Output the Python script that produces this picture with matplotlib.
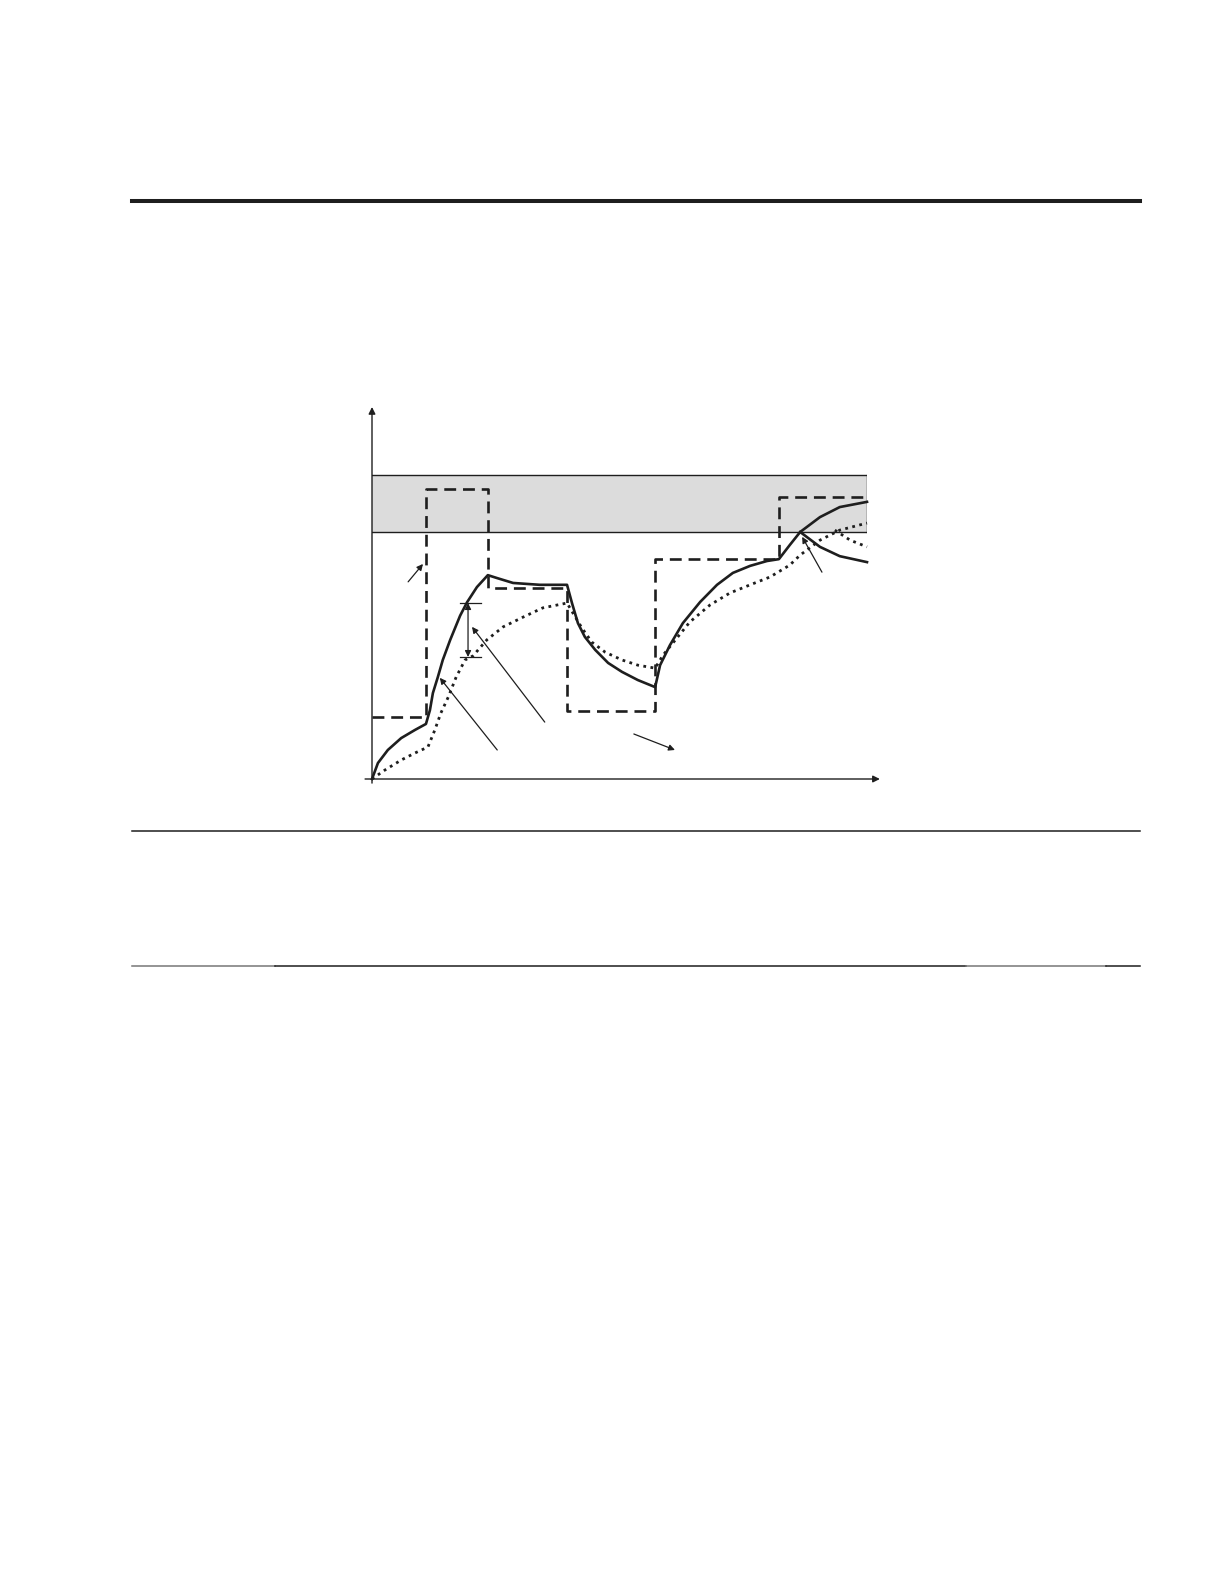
import matplotlib
matplotlib.use('Agg')
import matplotlib.pyplot as plt
from matplotlib.lines import Line2D

# 时间轴 0..10, 数值轴 0..100
step_t = [0, 1.09, 2.34, 3.94, 5.72, 8.22, 10]
step_v = [16.7, 78.0, 51.3, 18.3, 59.1, 75.8, 75.8]

solid_t = [0, 0.12, 0.32, 0.59, 0.87, 1.09, 1.17, 1.23, 1.33, 1.43, 1.58,
           1.78, 1.92, 2.12, 2.34, 2.53, 2.85, 3.39, 3.94,
           4.04, 4.16, 4.30, 4.51, 4.77, 5.05, 5.37, 5.72,
           5.82, 6.02, 6.28, 6.63, 6.97, 7.29, 7.64, 7.98, 8.22,
           8.44, 8.65, 9.05, 9.45, 10]
solid_v = [0, 4.3, 7.8, 11.0, 13.2, 14.8, 18.5, 23.1, 27.4, 32.0, 37.4,
           43.9, 47.5, 51.6, 54.8, 54.0, 52.7, 52.2, 52.2,
           47.3, 41.9, 38.2, 34.7, 31.2, 28.8, 26.6, 24.7,
           30.6, 36.0, 41.9, 47.6, 52.2, 55.4, 57.3, 58.6, 59.1,
           62.9, 66.4, 70.4, 73.1, 74.5]
solid_branch_t = [8.65, 9.05, 9.45, 10]
solid_branch_v = [66.4, 62.4, 59.9, 58.3]

dot_t = [0, 0.26, 0.59, 0.87, 1.13, 1.27, 1.39, 1.54, 1.70, 1.88, 2.04,
         2.32, 2.65, 3.05, 3.45, 3.94,
         4.06, 4.24, 4.44, 4.71, 5.05, 5.37, 5.72,
         5.88, 6.16, 6.42, 6.83, 7.23, 7.64, 8.04, 8.44,
         8.65, 9.05, 9.45, 10]
dot_v = [0, 2.4, 5.1, 7.0, 8.6, 13.2, 17.7, 22.0, 27.4, 32.0, 33.1,
         37.4, 40.9, 43.5, 46.0, 47.3,
         44.6, 40.6, 36.8, 34.1, 32.0, 30.6, 29.8,
         33.3, 37.9, 42.2, 46.8, 50.0, 52.2, 54.3, 57.5,
         60.2, 64.2, 66.9, 68.8]
dot_branch_t = [9.35, 9.66, 10]
dot_branch_v = [66.9, 64.2, 62.4]

band = (66.4, 81.7)
gap_t = 1.94
gap_v = (32.8, 47.3)

# 指示箭头: (尾部, 头部)
pointers = [
    ((0.73, 53.0), (1.03, 57.8)),
    ((2.53, 7.8), (1.37, 27.2)),
    ((3.49, 15.3), (2.02, 40.9)),
    ((5.29, 12.1), (6.12, 7.8)),
    ((9.09, 55.6), (8.69, 65.1)),
]

ink = '#1e1e1e'

fig = plt.figure(figsize=(12.24, 15.84), dpi=100)
ax = fig.add_axes([372 / 1224, 1 - 779 / 1584, 495 / 1224, 372 / 1584])
ax.set_xlim(0, 10)
ax.set_ylim(0, 100)
ax.axis('off')

# 灰色区域
ax.fill_between([0, 10], band[0], band[1], color='#dcdcdc', lw=0, zorder=1)
ax.plot([0, 10], [band[0], band[0]], color=ink, lw=1.0, zorder=2)
ax.plot([0, 10], [band[1], band[1]], color=ink, lw=1.0, zorder=2)
ax.plot([10, 10], [band[0], band[1]], color=ink, lw=1.0, zorder=2)

# 坐标轴箭头
ax.annotate('', xy=(10.26, 0), xytext=(-0.14, 0), annotation_clip=False,
            arrowprops=dict(arrowstyle='-|>', color=ink, lw=1.0, mutation_scale=10, shrinkA=0, shrinkB=0))
ax.annotate('', xy=(0, 100), xytext=(0, -1.1), annotation_clip=False,
            arrowprops=dict(arrowstyle='-|>', color=ink, lw=1.0, mutation_scale=10, shrinkA=0, shrinkB=0))

# 曲线
ax.step(step_t, step_v, where='post', color=ink, lw=1.9, ls=(0, (4.5, 2.6)), zorder=4, clip_on=False)
ax.plot(solid_t, solid_v, color=ink, lw=1.9, zorder=5, clip_on=False, solid_joinstyle='round')
ax.plot(solid_branch_t, solid_branch_v, color=ink, lw=1.9, zorder=5, clip_on=False)
ax.plot(dot_t, dot_v, color=ink, lw=2.0, ls=(0, (1.0, 1.6)), zorder=3, clip_on=False)
ax.plot(dot_branch_t, dot_branch_v, color=ink, lw=2.0, ls=(0, (1.0, 1.6)), zorder=3, clip_on=False)

# 差值标注
ax.plot([gap_t - 0.16, gap_t + 0.26], [gap_v[1], gap_v[1]], color=ink, lw=0.9)
ax.plot([gap_t - 0.16, gap_t + 0.26], [gap_v[0], gap_v[0]], color=ink, lw=0.9)
ax.annotate('', xy=(gap_t, gap_v[1]), xytext=(gap_t, gap_v[0]),
            arrowprops=dict(arrowstyle='<|-|>', color=ink, lw=0.9, mutation_scale=9, shrinkA=0, shrinkB=0))

for tail, head in pointers:
    ax.annotate('', xy=head, xytext=tail, annotation_clip=False,
                arrowprops=dict(arrowstyle='-|>', color=ink, lw=0.9, mutation_scale=9, shrinkA=0, shrinkB=0))

# 页面横线
x0, x1 = 132 / 1224, 1140 / 1224
fig.add_artist(Line2D([x0, x1], [1 - 201 / 1584] * 2, color=ink, lw=2.9, transform=fig.transFigure))
fig.add_artist(Line2D([x0, x1], [1 - 831 / 1584] * 2, color=ink, lw=1.1, transform=fig.transFigure))
yb = 1 - 966 / 1584
fig.add_artist(Line2D([x0, 275 / 1224], [yb] * 2, color='#777777', lw=1.1, transform=fig.transFigure))
fig.add_artist(Line2D([275 / 1224, 966 / 1224], [yb] * 2, color=ink, lw=1.1, transform=fig.transFigure))
fig.add_artist(Line2D([966 / 1224, 1106 / 1224], [yb] * 2, color='#777777', lw=1.1, transform=fig.transFigure))
fig.add_artist(Line2D([1106 / 1224, x1], [yb] * 2, color=ink, lw=1.1, transform=fig.transFigure))

fig.savefig('out.png', dpi=100, facecolor='white')
plt.close(fig)
